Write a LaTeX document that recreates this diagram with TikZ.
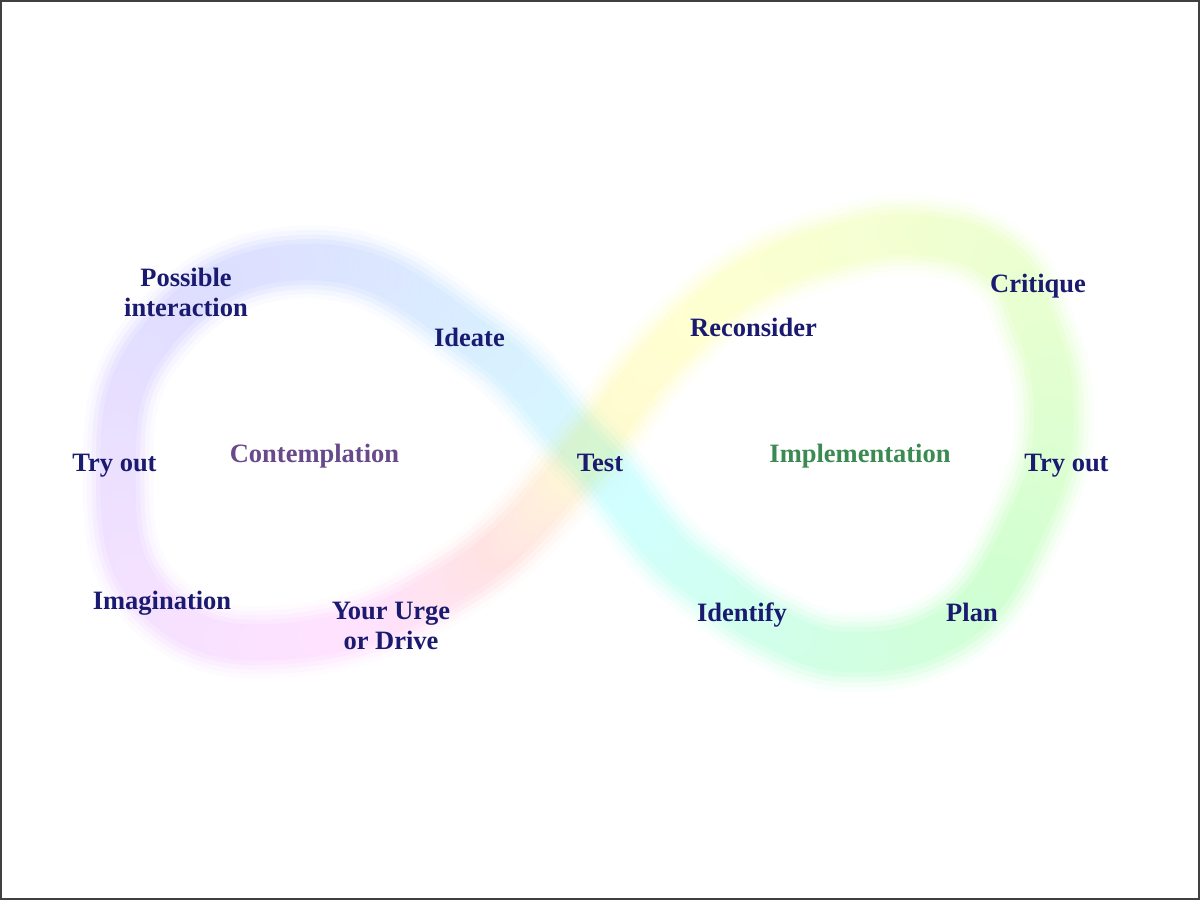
\documentclass[tikz,border=0pt]{standalone}
\usepackage{fontspec}
\setmainfont{Liberation Serif}
\usetikzlibrary{decorations.markings}
\definecolor{navy}{RGB}{26,26,112}
\definecolor{contcol}{RGB}{104,74,138}
\definecolor{implcol}{RGB}{58,138,82}
% colour of the band at a fraction of each loop
\newcommand\leftcol[1]{%
  \pgfmathsetmacro\bfr{max(0,min(1,#1))}%
  \pgfmathsetmacro\bhu{mod(0.52+0.4125*\bfr+1.0875*max(0,\bfr-0.8),1)}%
  \pgfmathsetmacro\bsf{0.11+0.05*(1-\bfr)^2+0.07*(max(0,(\bfr-0.9)/0.1))^2}%
  \pgfmathsetmacro\brf{1-0.12*sin(180*\bfr)}}
\newcommand\rightcol[1]{%
  \pgfmathsetmacro\bfr{max(0,min(1,#1))}%
  \pgfmathsetmacro\bhu{0.15+0.37*\bfr*sqrt(\bfr)}%
  \pgfmathsetmacro\bsf{0.18}%
  \pgfmathsetmacro\brf{1}}
\newcommand\colorat[1]{%
  \pgfmathsetmacro\bg{#1}%
  \ifdim\bg pt<\leftlen pt \leftcol{\bg/\leftlen}\else\rightcol{(\bg-\leftlen)/\rightlen}\fi}
\newcommand\paint{%
  \pgfmathsetmacro\bss{max(0,\bsf*\bk*\bw)}%
  \pgfmathsetmacro\brr{\brf*\br}%
  \definecolor{bc}{hsb}{\bhu,\bss,1}%
  \fill[bc] (0,0) circle[radius=\brr pt];}
\newcommand\markone{%
  \pgfmathsetmacro\bdd{\pgfkeysvalueof{/pgf/decoration/mark info/distance from start}}%
  \pgfmathsetmacro\bw{max(0,min(1,min(\bdd/\lenAAB,(\pgfdecoratedpathlength-\bdd)/\lenBBC)))}%
  \pgfmathsetmacro\bgg{\bdd+\lenCAa}%
  \colorat{\bgg}\paint}
\newcommand\marktwo{%
  \pgfmathsetmacro\bdd{\pgfkeysvalueof{/pgf/decoration/mark info/distance from start}}%
  \pgfmathsetmacro\bw{max(0,min(1,min(\bdd/\lenBBC,(\pgfdecoratedpathlength-\bdd)/\lenAAB)))}%
  \pgfmathsetmacro\bgg{\bdd+\leftlen+\lenCBa}%
  \ifdim\bgg pt<\totlen pt\else\pgfmathsetmacro\bgg{\bgg-\totlen}\fi
  \colorat{\bgg}\paint}
\newcommand\measure[2]{\path[decoration={markings, mark=at position 0.5 with {\pgfmathsetmacro\tmplen{\pgfdecoratedpathlength}\xdef#1{\tmplen}}}, decorate] #2;}
\tikzset{
  lab/.style={font=\fontsize{26.5}{30}\selectfont\bfseries, text=navy, inner sep=0pt, anchor=base, align=center},
  lab2/.style={lab, anchor=south},
  frame/.style={draw=black!75, line width=2pt}
}
\begin{document}
\begin{tikzpicture}[x=1pt,y=1pt]
\fill[white] (0,0) rectangle (1200,900);
\useasboundingbox (0,0) rectangle (1200,900);
% centre line of the band
\coordinate (C) at (587,448);
\coordinate (A1) at (484,555);
\coordinate (A2) at (310,638);
\coordinate (A3) at (150,555);
\coordinate (A4) at (118,420);
\coordinate (A5) at (160,293);
\coordinate (A6) at (275,258);
\coordinate (A7) at (460,322);
\coordinate (B1) at (667,550);
\coordinate (B2) at (833,653);
\coordinate (B3) at (917,665);
\coordinate (B3b) at (1003,635);
\coordinate (B4) at (1037,570);
\coordinate (B5) at (1054,480);
\coordinate (B6) at (1023,370);
\coordinate (B7) at (933,263);
\coordinate (B8) at (850,248);
\coordinate (B9) at (767,275);
\coordinate (B10) at (700,322);
\def\leftpath{(C) to[out=135,in=325] (A1) to[out=145,in=0] (A2) to[out=180,in=53] (A3) to[out=233,in=90] (A4) to[out=270,in=138] (A5) to[out=318,in=183] (A6) to[out=3,in=212] (A7) to[out=32,in=229] (C)}
\def\rightpath{(C) to[out=49,in=226] (B1) to[out=46,in=194] (B2) to[out=14,in=175] (B3) to[out=-5,in=140] (B3b) to[out=-40,in=112] (B4) to[out=-68,in=90] (B5) to[out=-90,in=65] (B6) to[out=-115,in=25] (B7) to[out=-155,in=0] (B8) to[out=180,in=-27] (B9) to[out=153,in=-35] (B10) to[out=145,in=-45] (C)}
\def\pieceone{(A1) to[out=145,in=0] (A2) to[out=180,in=53] (A3) to[out=233,in=90] (A4) to[out=270,in=138] (A5) to[out=318,in=183] (A6) to[out=3,in=212] (A7) to[out=32,in=229] (C) to[out=49,in=226] (B1) to[out=46,in=194] (B2) to[out=14,in=175] (B3)}
\def\piecetwo{(B2) to[out=14,in=175] (B3) to[out=-5,in=140] (B3b) to[out=-40,in=112] (B4) to[out=-68,in=90] (B5) to[out=-90,in=65] (B6) to[out=-115,in=25] (B7) to[out=-155,in=0] (B8) to[out=180,in=-27] (B9) to[out=153,in=-35] (B10) to[out=145,in=-45] (C) to[out=135,in=325] (A1) to[out=145,in=0] (A2)}
% lengths
\measure\leftlen{\leftpath}
\measure\rightlen{\rightpath}
\measure\lenCAa{(C) to[out=135,in=325] (A1)}
\measure\lenCAb{(C) to[out=135,in=325] (A1) to[out=145,in=0] (A2)}
\measure\lenCBa{(C) to[out=49,in=226] (B1) to[out=46,in=194] (B2)}
\measure\lenCBb{(C) to[out=49,in=226] (B1) to[out=46,in=194] (B2) to[out=14,in=175] (B3)}
\pgfmathsetmacro\lenAAB{\lenCAb-\lenCAa}
\pgfmathsetmacro\lenBBC{\lenCBb-\lenCBa}
\pgfmathsetmacro\totlen{\leftlen+\rightlen}
% the band, in two overlapping strokes that blend (multiply) where they cross
\begin{scope}[blend mode=multiply]
 \begin{scope}[transparency group]
  \begin{scope}[blend mode=normal]
  \foreach \br/\bk in {40/0.12, 35/0.3, 30/0.55, 25/0.8, 20/1.0} {
    \path[decoration={markings, mark=between positions 0 and 1 step 5pt with {\markone}}, decorate] \pieceone;
  }
  \end{scope}
 \end{scope}
\end{scope}
\begin{scope}[blend mode=multiply]
 \begin{scope}[transparency group]
  \begin{scope}[blend mode=normal]
  \foreach \br/\bk in {40/0.12, 35/0.3, 30/0.55, 25/0.8, 20/1.0} {
    \path[decoration={markings, mark=between positions 0 and 1 step 5pt with {\marktwo}}, decorate] \piecetwo;
  }
  \end{scope}
 \end{scope}
\end{scope}
% labels
\node[lab2] (possible) at (186,583) {Possible\\interaction};
\node[lab] (ideate) at (469.5,553) {Ideate};
\node[lab] (reconsider) at (753.5,563) {Reconsider};
\node[lab] (critique) at (1038,607) {Critique};
\node[lab] (tryl) at (114.5,428) {Try out};
\node[lab, text=contcol] (contemplation) at (314.5,437) {Contemplation};
\node[lab] (test) at (600,428) {Test};
\node[lab, text=implcol] (implementation) at (860,437) {Implementation};
\node[lab] (tryr) at (1066.5,428) {Try out};
\node[lab] (imagination) at (162,290) {Imagination};
\node[lab2] (urge) at (391,250) {Your Urge\\or Drive};
\node[lab] (identify) at (742,278) {Identify};
\node[lab] (plan) at (972,278) {Plan};
\draw[frame] (1,1) rectangle (1199,899);
\end{tikzpicture}
\end{document}
